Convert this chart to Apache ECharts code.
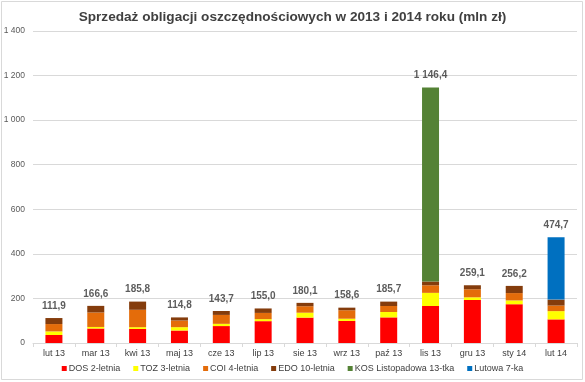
<!DOCTYPE html>
<html>
<head>
<meta charset="utf-8">
<script src="https://cdn.jsdelivr.net/npm/echarts@6/dist/echarts.min.js"></script>
<style>html,body{margin:0;padding:0;background:#fff}#c{width:585px;height:382px}</style>
</head>
<body>
<div id="c"></div>
<script>
var categories = ['lut 13','mar 13','kwi 13','maj 13','cze 13','lip 13','sie 13','wrz 13','paź 13','lis 13','gru 13','sty 14','lut 14'];
var dos = [36, 65, 63, 56, 76, 98, 114, 99, 115, 166, 193, 174, 106];
var toz = [16, 7, 8, 15, 10, 9, 22, 10, 24, 59, 12, 17, 37];
var coi = [33, 65, 78, 30, 40, 28, 29, 38, 27, 34, 36, 33, 25];
var edo = [27, 29.6, 36.8, 13.8, 17.7, 20, 15.1, 11.6, 19.7, 17, 18.1, 32.2, 26.7];
var kos = [0, 0, 0, 0, 0, 0, 0, 0, 0, 870.4, 0, 0, 0];
var lutowa = [0, 0, 0, 0, 0, 0, 0, 0, 0, 0, 0, 0, 280];
var totals = [111.9, 166.6, 185.8, 114.8, 143.7, 155.0, 180.1, 158.6, 185.7, 1146.4, 259.1, 256.2, 474.7];
var seriesNames = ['DOS 2-letnia','TOZ 3-letnia','COI 4-letnia','EDO 10-letnia','KOS Listopadowa 13-tka','Lutowa 7-ka'];
var yTicks = {min: 0, max: 1400, interval: 200};

function fmtNum(v, dec) {
  var s = v.toFixed(dec);
  var parts = s.split('.');
  parts[0] = parts[0].replace(/\B(?=(\d{3})+(?!\d))/g, ' ');
  return parts.join(',');
}

var colors = ['#FF0000','#FFFF00','#E46C0A','#843C0C','#548235','#0070C0'];
var dataSets = [dos, toz, coi, edo, kos, lutowa];
var FONT = '"Liberation Sans", Arial, sans-serif';

var series = dataSets.map(function (d, i) {
  return {
    name: seriesNames[i],
    type: 'bar',
    stack: 'total',
    barWidth: 17,
    itemStyle: {color: colors[i]},
    data: d
  };
});
series.push({
  name: 'Suma',
  type: 'scatter',
  symbolSize: 0,
  data: totals,
  label: {
    show: true,
    position: 'top',
    distance: 7,
    formatter: function (p) { return fmtNum(p.value, 1); },
    fontFamily: FONT,
    fontSize: 10,
    fontWeight: 'bold',
    color: '#333333'
  },
  z: 10
});

var chart = echarts.init(document.getElementById('c'), null, {renderer: 'canvas'});
chart.setOption({
  animation: false,
  backgroundColor: '#fff',
  textStyle: {fontFamily: FONT},
  title: {
    text: 'Sprzedaż obligacji oszczędnościowych w 2013 i 2014 roku (mln zł)',
    left: 'center',
    top: 5,
    textStyle: {fontFamily: FONT, fontSize: 13.6, fontWeight: 'bold', color: '#404040'}
  },
  legend: {
    data: seriesNames,
    bottom: 4,
    left: 'center',
    icon: 'rect',
    itemWidth: 5,
    itemHeight: 5,
    itemGap: 13,
    textStyle: {fontFamily: FONT, fontSize: 9, color: '#404040', padding: [0, 0, 0, -3]}
  },
  graphic: [{
    type: 'rect',
    shape: {x: 1.5, y: 1.5, width: 581, height: 378},
    style: {fill: 'none', stroke: '#d9d9d9', lineWidth: 1},
    silent: true
  }],
  grid: {left: 33, right: 8, top: 31, bottom: 39},
  xAxis: {
    type: 'category',
    data: categories,
    axisLine: {lineStyle: {color: '#d9d9d9'}},
    axisTick: {show: true, length: 4, lineStyle: {color: '#d9d9d9'}},
    axisLabel: {fontFamily: FONT, fontSize: 9, color: '#404040', margin: 6}
  },
  yAxis: {
    type: 'value',
    min: yTicks.min,
    max: yTicks.max,
    interval: yTicks.interval,
    axisLine: {show: false},
    axisTick: {show: false},
    splitLine: {lineStyle: {color: '#d9d9d9'}},
    axisLabel: {
      fontFamily: FONT, fontSize: 8.5, color: '#595959', margin: 8,
      formatter: function (v) { return fmtNum(v, 0); }
    }
  },
  series: series
});
</script>
</body>
</html>
